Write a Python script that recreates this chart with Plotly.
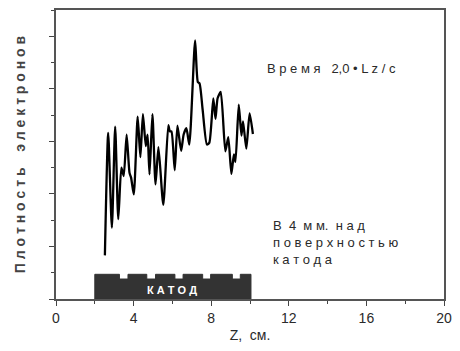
import plotly.graph_objects as go

# Electron density profile along Z (cm)
z_cm = [2.52, 2.69, 2.88, 3.05, 3.21, 3.37, 3.49, 3.64, 3.79, 3.87, 4.01, 4.21, 4.35, 4.48,
        4.63, 4.72, 4.82, 4.97, 5.13, 5.28, 5.53, 5.79, 5.87, 5.95, 6.12, 6.26, 6.45, 6.58,
        6.72, 6.87, 7.17, 7.31, 7.40, 7.56, 7.78, 7.90, 8.11, 8.22, 8.33, 8.49, 8.73, 8.88,
        9.04, 9.17, 9.25, 9.42, 9.56, 9.64, 9.81, 9.98, 10.15]
density = [0.83, 3.16, 1.36, 3.28, 1.52, 2.50, 2.34, 3.13, 2.40, 2.31, 1.99, 3.47, 2.70, 3.52,
           2.91, 3.13, 2.37, 3.52, 2.18, 2.89, 1.79, 3.31, 3.19, 3.19, 2.45, 3.30, 2.82, 3.13,
           3.25, 2.94, 4.92, 4.13, 4.10, 3.60, 2.94, 2.97, 3.82, 3.43, 3.82, 3.94, 2.81, 3.08,
           2.38, 2.75, 2.61, 3.70, 3.11, 3.38, 2.86, 3.53, 3.14]

# Cathode outline (in data units)
cathode_start = 2.0
cathode_end = 10.05
cathode_height = 0.47
notch_depth = 0.09
notch_left = [3.27, 4.68, 6.13, 7.56, 9.09]
notch_right = [3.71, 5.13, 6.55, 7.97, 9.50]

x_ticks = [0, 4, 8, 12, 16, 20]

cx = [cathode_start, cathode_start]
cy = [0, cathode_height]
for a, b in zip(notch_left, notch_right):
    cx += [a, a, b, b]
    cy += [cathode_height, cathode_height - notch_depth, cathode_height - notch_depth, cathode_height]
cx += [cathode_end, cathode_end, cathode_start]
cy += [cathode_height, 0, 0]

FONT = "Liberation Sans, Arial, sans-serif"
TXT = "#2a2a2a"

fig = go.Figure()
fig.add_trace(go.Scatter(x=cx, y=cy, mode="lines", fill="toself",
                         fillcolor="#333333", line=dict(color="#333333", width=1),
                         hoverinfo="skip", showlegend=False))
fig.add_trace(go.Scatter(x=z_cm, y=density, mode="lines",
                         line=dict(color="black", width=2.3, shape="spline", smoothing=0.6),
                         showlegend=False))

def spaced(s):
    return " ".join(s)

fig.add_annotation(x=(cathode_start + cathode_end) / 2 - 0.05, y=0.17, text="<b>" + spaced("КАТОД") + "</b>",
                   showarrow=False, font=dict(family=FONT, size=11, color="white"))
fig.add_annotation(x=10.75, y=4.38, xanchor="left", text="В р е м я   2,0 • L z / c",
                   showarrow=False, font=dict(family=FONT, size=13, color=TXT))
fig.add_annotation(x=11.1, y=1.58, xanchor="left", yanchor="top", align="left",
                   text="В  4  м м.  н а д<br>п о в е р х н о с т ь ю<br>к а т о д а",
                   showarrow=False, font=dict(family=FONT, size=13, color=TXT))

fig.update_layout(
    width=460, height=351,
    margin=dict(l=56, r=10, t=8, b=52),
    plot_bgcolor="white", paper_bgcolor="white",
    font=dict(family=FONT, size=14, color=TXT),
    xaxis=dict(range=[0, 20], tickvals=x_ticks, ticktext=[str(v) for v in x_ticks],
               ticks="outside", ticklen=5, tickwidth=1.2, tickcolor="#444",
               minor=dict(dtick=2, ticks="outside", ticklen=3, tickcolor="#444"),
               showline=True, linecolor="#555", linewidth=1.5, mirror=True,
               showgrid=False, zeroline=False,
               title=dict(text="Z,  см.", font=dict(size=14, color=TXT), standoff=6),
               tickfont=dict(size=14, color=TXT)),
    yaxis=dict(range=[0, 5.5], dtick=1, showticklabels=False,
               ticks="outside", ticklen=5, tickwidth=1.2, tickcolor="#444",
               minor=dict(dtick=0.5, ticks="outside", ticklen=3, tickcolor="#444"),
               showline=True, linecolor="#555", linewidth=1.5, mirror=True,
               showgrid=False, zeroline=False,
               title=dict(text="<b>" + spaced("Плотность") + "    " + spaced("электронов") + "</b>",
                          font=dict(size=14, color="#444"), standoff=20)),
)

fig.write_html("out.html")
